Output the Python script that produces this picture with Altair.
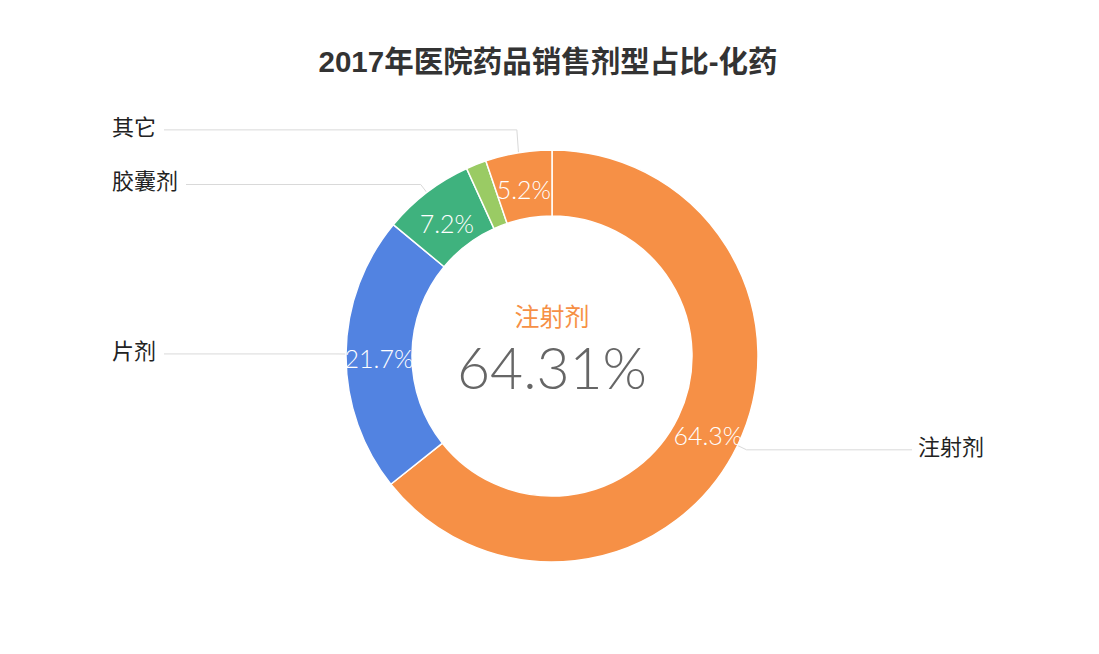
import altair as alt
import pandas as pd
import numpy as np

# ---------------- data ----------------
names = ["注射剂", "片剂", "胶囊剂", "未标注", "其它"]
values = [64.31, 21.7, 7.2, 1.6, 5.2]
colors = ["#F69046", "#5283E1", "#3FB27E", "#9ACB64", "#F69046"]
title_text = "2017年医院药品销售剂型占比-化药"
center_name = "注射剂"
center_value = "64.31%"

# ---------------- layout ----------------
W, H = 1083, 638
CX, CY = 544, 348           # donut centre inside the view (px)
R_OUT, R_IN = 206, 140
R_LBL = 173                  # radius of the inner percentage labels
R_ELB = 216                  # radius of the leader-line elbow
LEFT_EDGE = 104 - CX         # left labels start here (units relative to centre)
RIGHT_EDGE = 976 - CX        # right labels end here
CHAR_W = 22
label_lift = {"其它": 13}    # manual lift of crowded labels (px)
MIN_SHARE = 0.02             # labels hidden for tiny slices

xs = alt.Scale(domain=[-CX, W - CX], nice=False, zero=False)
ys = alt.Scale(domain=[-(H - CY), CY], nice=False, zero=False)

total = float(sum(values))
vals = np.array(values, dtype=float)
t1 = 2 * np.pi * np.cumsum(vals) / total
t0 = t1 - 2 * np.pi * vals / total
mid = (t0 + t1) / 2

slices = pd.DataFrame({
    "name": names,
    "value": vals,
    "t0": t0,
    "t1": t1,
    "lx": R_LBL * np.sin(mid),
    "ly": R_LBL * np.cos(mid),
    "pct": [f"{v / total * 100:.1f}%" for v in vals],
    "share": vals / total,
    "cx": 0.0,
    "cy": 0.0,
})

line_rows, label_rows = [], []
for i, n in enumerate(names):
    if vals[i] / total < MIN_SHARE:
        continue
    s, c = np.sin(mid[i]), np.cos(mid[i])
    lift = label_lift.get(n, 0)
    ax, ay = R_OUT * s, R_OUT * c
    ex, ey = R_ELB * s, R_ELB * c + lift
    w = len(n) * CHAR_W
    if s < 0:
        tx = LEFT_EDGE
        endx = LEFT_EDGE + w + 8
    else:
        tx = RIGHT_EDGE - w
        endx = RIGHT_EDGE - w - 6
    line_rows += [
        {"name": n, "k": 0, "x": ax, "y": ay},
        {"name": n, "k": 1, "x": ex, "y": ey},
        {"name": n, "k": 2, "x": endx, "y": ey},
    ]
    label_rows.append({"name": n, "x": tx, "y": ey})

lines = pd.DataFrame(line_rows)
labels = pd.DataFrame(label_rows)

X = lambda f: alt.X(f, scale=xs, axis=None)
Y = lambda f: alt.Y(f, scale=ys, axis=None)

leader = alt.Chart(lines).mark_line(color="#D9D9D9", strokeWidth=1).encode(
    x=X("x:Q"), y=Y("y:Q"), detail="name:N", order="k:Q"
)

arcs = alt.Chart(slices).mark_arc(
    innerRadius=R_IN, outerRadius=R_OUT, stroke="white", strokeWidth=1.5
).encode(
    theta=alt.Theta("t0:Q", scale=None),
    theta2="t1:Q",
    x=X("cx:Q"),
    y=Y("cy:Q"),
    color=alt.Color("name:N", scale=alt.Scale(domain=names, range=colors), legend=None),
)

inner = alt.Chart(slices).transform_filter(
    alt.datum.share >= MIN_SHARE
).mark_text(
    color="white", fontSize=25, font="Lato", fontWeight=300, dy=6,
    align="center", baseline="middle"
).encode(x=X("lx:Q"), y=Y("ly:Q"), text="pct:N")

outer = alt.Chart(labels).mark_text(
    color="#222222", fontSize=22, font="Noto Sans CJK SC", align="left",
    baseline="middle", dy=-2
).encode(x=X("x:Q"), y=Y("y:Q"), text="name:N")

center_df = pd.DataFrame({"n": [center_name], "v": [center_value], "t": [title_text]})

c_name = alt.Chart(center_df).mark_text(
    color="#F69046", fontSize=25, font="Noto Sans CJK SC", align="center", baseline="middle"
).encode(x=alt.value(CX), y=alt.value(CY - 38), text="n:N")

c_val = alt.Chart(center_df).mark_text(
    color="#666666", fontSize=57, font="Lato", fontWeight=300, align="center", baseline="middle"
).encode(x=alt.value(CX), y=alt.value(CY + 16), text="v:N")

title = alt.Chart(center_df).mark_text(
    color="#333333", fontSize=29.5, font="Liberation Sans, Noto Sans CJK SC", fontWeight="bold",
    align="center", baseline="middle"
).encode(x=alt.value(CX - 4), y=alt.value(55), text="t:N")

chart = alt.layer(leader, arcs, inner, outer, c_name, c_val, title).properties(
    width=W, height=H, autosize=alt.AutoSizeParams(type="none"), padding=0
).configure_view(stroke=None)

chart.save("out.html", embed_options={"renderer": "svg", "actions": False})
